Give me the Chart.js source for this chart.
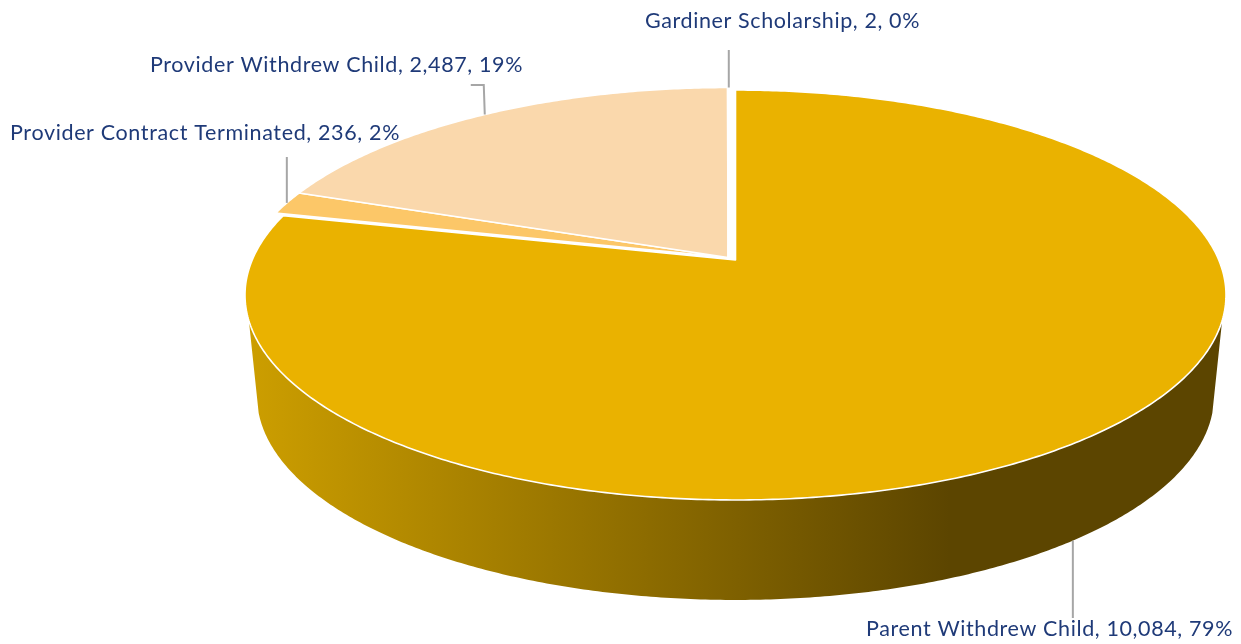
<!DOCTYPE html>
<html>
<head>
<meta charset="utf-8">
<style>html,body{margin:0;padding:0;background:#fff}canvas{display:block}</style>
<script src="https://cdn.jsdelivr.net/npm/chart.js@4"></script>
</head>
<body>
<canvas id="c" width="1241" height="644"></canvas>
<script>
const categories = ["Parent Withdrew Child", "Provider Contract Terminated", "Provider Withdrew Child", "Gardiner Scholarship"];
const counts = [10084, 236, 2487, 2];
const percents = ["79%", "2%", "19%", "0%"];
const colors = ["#EAB200", "#FCC768", "#FAD8AC", "#F4B860"];

// Perspective projection of the pie's unit circle onto the tilted top face
const K = -0.1707, A = 483.3, B = 199;
const CENTER = [{x:735.5,y:260},{x:728,y:257.5},{x:728,y:257.5},{x:728,y:257.5}];
function project(angle, c){
  const u = Math.cos(angle), v = Math.sin(angle), w = 1 + K*v;
  return {x: c.x + A*u/w, y: c.y + B*v/w};
}
function lower(p){ // matching point on the bottom rim of the extruded side
  return {x: 735.5 + (p.x-735.5)*0.9755, y: 395 + (p.y-294)*0.995};
}
function tracePath(ctx, a0, a1, c){
  const n = Math.max(2, Math.ceil(Math.abs(a1-a0)/0.01));
  ctx.beginPath();
  ctx.moveTo(c.x, c.y);
  for(let i=0;i<=n;i++){ const p = project(a0+(a1-a0)*i/n, c); ctx.lineTo(p.x,p.y); }
  ctx.closePath();
}
const pie3d = {
  id:'pie3d',
  beforeDatasetDraw(chart, args){
    const ctx = chart.ctx, arcs = chart.getDatasetMeta(args.index).data;
    ctx.save();
    // side wall
    const c = CENTER[0], a0 = Math.asin(0.29), a1 = Math.PI-a0, e0 = Math.asin(0.25), e1 = Math.PI-e0;
    const g = ctx.createLinearGradient(250,0,950,0);
    g.addColorStop(0,'#CC9E00'); g.addColorStop(1,'#5C4500');
    ctx.beginPath();
    const N=300;
    for(let i=0;i<=N;i++){ const p=project(a0+(a1-a0)*i/N,c); i?ctx.lineTo(p.x,p.y):ctx.moveTo(p.x,p.y); }
    for(let i=N;i>=0;i--){ const p=lower(project(e0+(e1-e0)*i/N,c)); ctx.lineTo(p.x,p.y); }
    ctx.closePath(); ctx.fillStyle=g; ctx.fill();
    // top faces
    arcs.forEach((arc,i)=>{
      tracePath(ctx, arc.startAngle, arc.endAngle, CENTER[i]);
      ctx.fillStyle = colors[i]; ctx.fill();
      ctx.strokeStyle='#fff'; ctx.lineWidth=1.6; ctx.lineJoin='round'; ctx.stroke();
    });
    ctx.restore();
    return false;
  },
  afterDatasetsDraw(chart){
    const ctx = chart.ctx, arcs = chart.getDatasetMeta(0).data;
    const mid = i => (arcs[i].startAngle+arcs[i].endAngle)/2;
    ctx.save();
    ctx.strokeStyle='#A6A6A6'; ctx.lineWidth=2; ctx.lineJoin='miter';
    const line = pts => { ctx.beginPath(); pts.forEach((p,i)=>i?ctx.lineTo(p[0],p[1]):ctx.moveTo(p[0],p[1])); ctx.stroke(); };
    const a0 = lower(project(mid(0), CENTER[0]));
    line([[a0.x,a0.y],[a0.x,630]]);
    const a1 = project(mid(1), CENTER[1]);
    line([[a1.x,a1.y],[a1.x,157]]);
    const a2 = project(mid(2), CENTER[2]);
    line([[a2.x,a2.y],[a2.x-1,85],[a2.x-14,85]]);
    const a3 = project(mid(3), CENTER[3]);
    line([[a3.x+1,a3.y],[a3.x+1,50]]);
    ctx.fillStyle='#fff'; ctx.fillRect(860,618,381,26);
    ctx.fillStyle='#1F3A78'; ctx.textBaseline='alphabetic'; ctx.textAlign='left';
    ctx.font='21.5px Lato';
    const spots = [[866,636,367],[10,140,390],[150,72,373],[645,28,275]];
    categories.forEach((name,i)=>{
      const t = name+', '+counts[i].toLocaleString('en-US')+', '+percents[i];
      const w = ctx.measureText(t).width;
      ctx.letterSpacing = ((spots[i][2]-w)/t.length)+'px';
      ctx.fillText(t, spots[i][0], spots[i][1]);
      ctx.letterSpacing='0px';
    });
    ctx.restore();
  }
};
new Chart(document.getElementById('c'),{
  type:'pie',
  data:{labels:categories,datasets:[{data:counts,backgroundColor:colors,borderColor:'#fff'}]},
  options:{responsive:false,animation:false,rotation:0,
    plugins:{legend:{display:false},tooltip:{enabled:false}}},
  plugins:[pie3d]
});
</script>
</body>
</html>
